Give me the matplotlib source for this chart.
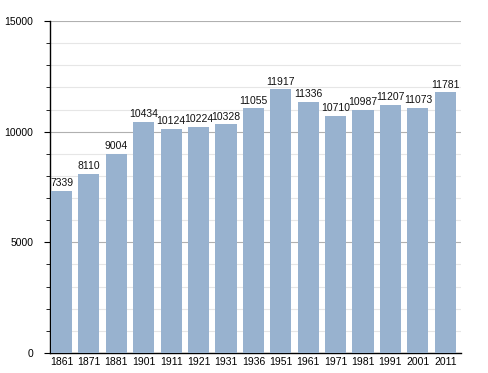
import matplotlib
matplotlib.use("Agg")
import matplotlib.pyplot as plt
import numpy as np
from matplotlib.ticker import MultipleLocator

years = ["1861", "1871", "1881", "1901", "1911", "1921", "1931", "1936", "1951",
         "1961", "1971", "1981", "1991", "2001", "2011"]
population = [7339, 8110, 9004, 10434, 10124, 10224, 10328, 11055, 11917,
              11336, 10710, 10987, 11207, 11073, 11781]

plt.rcParams['font.family'] = ['Liberation Sans', 'DejaVu Sans']

fig = plt.figure(figsize=(4.88, 3.73), dpi=100)
ax = fig.add_axes([0.1025, 0.0536, 0.8425, 0.8901])

x = np.arange(len(years))
bars = ax.bar(x, population, width=0.77, color="#98b2cf", zorder=3)

for xi, v in zip(x, population):
    ax.text(xi, v + 120, str(v), ha="center", va="bottom", fontsize=7.5, color="#111111", zorder=4)

ax.set_xlim(-0.42, 14.58)
ax.set_ylim(0, 15000)
ax.yaxis.set_major_locator(MultipleLocator(5000))
ax.yaxis.set_minor_locator(MultipleLocator(1000))
ax.grid(axis="y", which="minor", color="#e6e6e6", linewidth=0.8, zorder=0)
ax.grid(axis="y", which="major", color="#b0b0b0", linewidth=0.8, zorder=0)
ax.set_xticks(x)
ax.set_xticklabels(years, fontsize=7.5)
ax.tick_params(axis="x", length=0, pad=3)
ax.tick_params(axis="y", which="major", length=4, labelsize=7.5, pad=8)
ax.tick_params(axis="y", which="minor", length=3)
for s in ["top", "right"]:
    ax.spines[s].set_visible(False)
ax.spines["left"].set_linewidth(1.0)
ax.spines["bottom"].set_linewidth(1.0)

fig.savefig("out.png", dpi=100)
